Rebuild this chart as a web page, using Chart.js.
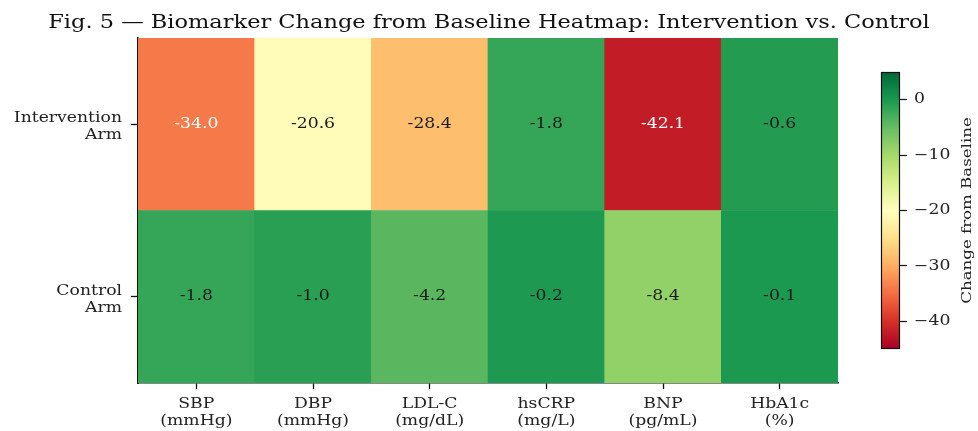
<!DOCTYPE html>
<html>
<head>
<meta charset="utf-8">
<script src="https://cdn.jsdelivr.net/npm/chart.js@4.4.1/dist/chart.umd.min.js"></script>
<style>
  html, body { margin: 0; padding: 0; background: #fff; }
  #figure { position: relative; width: 978px; height: 431px; }
  #heatmap { position: absolute; left: 0; top: 0; }
  #colorbar { position: absolute; left: 860px; top: 0; }
</style>
</head>
<body>
<div id="figure">
  <canvas id="heatmap" width="978" height="431"></canvas>
  <canvas id="colorbar" width="118" height="431"></canvas>
</div>
<script>
const FIG_TITLE = "Fig. 5 \u2014 Biomarker Change from Baseline Heatmap: Intervention vs. Control";
const metricLabels = [
  ["SBP", "(mmHg)"],
  ["DBP", "(mmHg)"],
  ["LDL-C", "(mg/dL)"],
  ["hsCRP", "(mg/L)"],
  ["BNP", "(pg/mL)"],
  ["HbA1c", "(%)"],
];
// bottom row first (y grows upward)
const armLabels = [["Control", "Arm"], ["Intervention", "Arm"]];
const controlValues = [-1.8, -1.0, -4.2, -0.2, -8.4, -0.1];
const interventionValues = [-34.0, -20.6, -28.4, -1.8, -42.1, -0.6];
const colorbarTicks = [0, -10, -20, -30, -40];
const colorbarLabel = "Change from Baseline";
const V_MIN = -45;
const V_MAX = 5;

const FONT = "'DejaVu Serif', 'Liberation Serif', serif";
const TEXT_WIDEN = 1.23; // reference face is wider than DejaVu Serif

// RdYlGn, 11 stops
const RDYLGN = [
  "#a50026", "#d73027", "#f46d43", "#fdae61", "#fee08b", "#ffffbf",
  "#d9ef8b", "#a6d96a", "#66bd63", "#1a9850", "#006837",
];

function hexToRgb(hex) {
  const n = parseInt(hex.slice(1), 16);
  return [(n >> 16) & 255, (n >> 8) & 255, n & 255];
}

function cellColor(value) {
  let t = (value - V_MIN) / (V_MAX - V_MIN);
  t = Math.min(1, Math.max(0, t));
  const pos = t * (RDYLGN.length - 1);
  const i = Math.min(RDYLGN.length - 2, Math.floor(pos));
  const f = pos - i;
  const a = hexToRgb(RDYLGN[i]);
  const b = hexToRgb(RDYLGN[i + 1]);
  const c = a.map((v, k) => Math.round(v + (b[k] - v) * f));
  return `rgb(${c[0]}, ${c[1]}, ${c[2]})`;
}

function textColorFor(value) {
  return value < -30 ? "#ffffff" : "#1a1a1a";
}

const rows = [controlValues, interventionValues];

// draw every string a little wider around its anchor point
const wideTextPlugin = {
  id: "wideText",
  beforeDraw(chart) {
    const ctx = chart.ctx;
    if (ctx._widened) return;
    const fill = ctx.fillText.bind(ctx);
    ctx.fillText = function (text, x, y, maxWidth) {
      ctx.save();
      ctx.translate(x, y);
      ctx.scale(TEXT_WIDEN, 1);
      if (maxWidth === undefined) fill(text, 0, 0);
      else fill(text, 0, 0, maxWidth / TEXT_WIDEN);
      ctx.restore();
    };
    ctx._widened = true;
  },
};

const cellTextPlugin = {
  id: "cellText",
  afterDatasetsDraw(chart) {
    const ctx = chart.ctx;
    ctx.save();
    ctx.font = `14px ${FONT}`;
    ctx.textAlign = "center";
    ctx.textBaseline = "middle";
    chart.data.datasets.forEach((ds, di) => {
      chart.getDatasetMeta(di).data.forEach((bar, i) => {
        const v = ds.values[i];
        const { x, y, base } = bar.getProps(["x", "y", "base"], true);
        ctx.fillStyle = textColorFor(v);
        ctx.fillText(v.toFixed(1), x, (y + base) / 2);
      });
    });
    ctx.restore();
  },
};

const figTitlePlugin = {
  id: "figTitle",
  afterDraw(chart) {
    const ctx = chart.ctx;
    ctx.save();
    ctx.font = `18.3px ${FONT}`;
    ctx.fillStyle = "#111";
    ctx.textAlign = "center";
    ctx.textBaseline = "alphabetic";
    ctx.fillText(FIG_TITLE, 489, 28);
    ctx.restore();
  },
};

const axisGrid = {
  display: true,
  drawOnChartArea: false,
  offset: false,
  color: "#111",
  tickLength: 6,
  tickWidth: 1.3,
};

new Chart(document.getElementById("heatmap"), {
  type: "bar",
  data: {
    labels: metricLabels,
    datasets: rows.map((vals, r) => ({
      label: armLabels[r].join(" "),
      data: vals.map(() => [r, r + 1]),
      values: vals,
      backgroundColor: vals.map(cellColor),
      borderWidth: 0,
      categoryPercentage: 1,
      barPercentage: 1,
      grouped: false,
    })),
  },
  options: {
    responsive: false,
    animation: false,
    devicePixelRatio: 1,
    layout: { padding: { top: 38, right: 140, left: 0, bottom: 0 } },
    plugins: { legend: { display: false }, tooltip: { enabled: false }, title: { display: false } },
    scales: {
      x: {
        type: "category",
        offset: true,
        grid: axisGrid,
        border: { display: true, color: "#111", width: 1.6 },
        ticks: {
          color: "#222",
          font: { family: FONT, size: 14, lineHeight: 1.2 },
          padding: 7,
          maxRotation: 0,
          autoSkip: false,
        },
        afterFit(scale) { scale.height = 48; },
      },
      y: {
        type: "linear",
        min: 0,
        max: rows.length,
        afterBuildTicks(scale) {
          scale.ticks = armLabels.map((_, r) => ({ value: r + 0.5 }));
        },
        grid: { ...axisGrid, tickLength: 7 },
        border: { display: true, color: "#111", width: 1.6 },
        ticks: {
          color: "#222",
          font: { family: FONT, size: 14, lineHeight: 1.2 },
          padding: 9,
          labelOffset: 3,
          callback: (v) => armLabels[Math.floor(v)],
        },
        afterFit(scale) { scale.width = 138; },
      },
    },
  },
  plugins: [wideTextPlugin, cellTextPlugin, figTitlePlugin],
});

const colorbarPlugin = {
  id: "colorbarFrame",
  afterDraw(chart) {
    const ctx = chart.ctx;
    const a = chart.chartArea;
    ctx.save();
    ctx.strokeStyle = "#111";
    ctx.lineWidth = 1.2;
    ctx.strokeRect(a.left + 0.5, a.top + 0.5, a.right - a.left - 1, a.bottom - a.top - 1);
    ctx.font = `13.5px ${FONT}`;
    ctx.fillStyle = "#222";
    ctx.textAlign = "center";
    ctx.textBaseline = "middle";
    ctx.translate(107, (a.top + a.bottom) / 2);
    ctx.rotate(-Math.PI / 2);
    ctx.fillText(colorbarLabel, 0, 0);
    ctx.restore();
  },
};

new Chart(document.getElementById("colorbar"), {
  type: "bar",
  data: {
    labels: [""],
    datasets: [{
      data: [[V_MIN, V_MAX]],
      borderWidth: 0,
      categoryPercentage: 1,
      barPercentage: 1,
      backgroundColor(context) {
        const chart = context.chart;
        const yScale = chart.scales.y;
        if (!chart.chartArea || !yScale) return RDYLGN[0];
        const y0 = yScale.getPixelForValue(V_MIN);
        const y1 = yScale.getPixelForValue(V_MAX);
        if (!isFinite(y0) || !isFinite(y1)) return RDYLGN[0];
        const g = chart.ctx.createLinearGradient(0, y0, 0, y1);
        RDYLGN.forEach((c, i) => g.addColorStop(i / (RDYLGN.length - 1), c));
        return g;
      },
    }],
  },
  options: {
    responsive: false,
    animation: false,
    devicePixelRatio: 1,
    layout: { padding: { top: 72, bottom: 82, left: 21, right: 0 } },
    plugins: { legend: { display: false }, tooltip: { enabled: false } },
    scales: {
      x: { display: false, offset: true },
      y: {
        position: "right",
        min: V_MIN,
        max: V_MAX,
        afterBuildTicks(scale) {
          scale.ticks = colorbarTicks.map((v) => ({ value: v }));
        },
        grid: { display: true, drawOnChartArea: false, color: "#111", tickLength: 7, tickWidth: 1.2 },
        border: { display: false },
        ticks: {
          color: "#222",
          font: { family: FONT, size: 14 },
          padding: 7,
          callback: (v) => String(v).replace("-", "\u2212"),
        },
        afterFit(scale) { scale.width = 78; },
      },
    },
  },
  plugins: [wideTextPlugin, colorbarPlugin],
});
</script>
</body>
</html>
